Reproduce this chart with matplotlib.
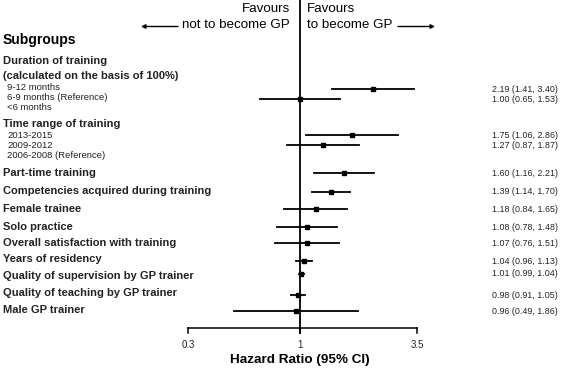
import numpy as np
import matplotlib
matplotlib.use("Agg")
import matplotlib.pyplot as plt
from matplotlib.transforms import blended_transform_factory

plt.rcParams['font.family'] = ['Liberation Sans', 'DejaVu Sans']

# datos
hr = [2.19, 1.00, 1.75, 1.27, 1.60, 1.39, 1.18, 1.08, 1.07, 1.04, 1.01, 0.98, 0.96]
ci_low = [1.41, 0.65, 1.06, 0.87, 1.16, 1.14, 0.84, 0.78, 0.76, 0.96, 0.99, 0.91, 0.49]
ci_high = [3.40, 1.53, 2.86, 1.87, 2.21, 1.70, 1.65, 1.48, 1.51, 1.13, 1.04, 1.05, 1.86]

labels = [
    ("Subgroups", "head"),
    ("Duration of training", "bold"),
    ("(calculated on the basis of 100%)", "bold"),
    ("9-12 months", "sub"),
    ("6-9 months (Reference)", "sub"),
    ("<6 months", "sub"),
    ("Time range of training", "bold"),
    ("2013-2015", "sub"),
    ("2009-2012", "sub"),
    ("2006-2008 (Reference)", "sub"),
    ("Part-time training", "bold"),
    ("Competencies acquired during training", "bold"),
    ("Female trainee", "bold"),
    ("Solo practice", "bold"),
    ("Overall satisfaction with training", "bold"),
    ("Years of residency", "bold"),
    ("Quality of supervision by GP trainer", "bold"),
    ("Quality of teaching by GP trainer", "bold"),
    ("Male GP trainer", "bold"),
]
ticks = [0.3, 1, 3.5]

# posiciones verticales (pixeles desde arriba)
y_lab = [40, 61, 76, 87, 97, 107, 124, 135, 146, 156, 173, 191, 209, 227, 243, 259, 276, 293, 310]
y_est = [89, 99, 135, 145, 173, 192, 209, 227, 243, 261, 274, 295, 311]

W, H = 567, 368
fig = plt.figure(figsize=(W / 100, H / 100), dpi=100)
ax = fig.add_axes([0, 0, 1, 1])
ax.set_xscale('log')
# 0.3 -> x=188 px, 3.5 -> x=417 px
k = np.log10(3.5 / 0.3) / (417 - 188)
ax.set_xlim(0.3 * 10 ** (-188 * k), 3.5 * 10 ** ((W - 417) * k))
ax.set_ylim(H, 0)
ax.axis('off')

trans = blended_transform_factory(ax.transAxes, ax.transData)

# linea de no efecto
ax.plot([1, 1], [0, 333], color='black', lw=1.3)

# intervalos y estimaciones
for i in range(len(hr)):
    ax.plot([ci_low[i], ci_high[i]], [y_est[i], y_est[i]], color='black', lw=1.3)
    ax.plot(hr[i], y_est[i], marker='s', ms=3.4, color='black')
    ax.text(492 / W, y_est[i], f"{hr[i]:.2f} ({ci_low[i]:.2f}, {ci_high[i]:.2f})",
            transform=trans, ha='left', va='center', fontsize=6.4, color='#222222')

# etiquetas de subgrupos
for (txt, kind), y in zip(labels, y_lab):
    if kind == "head":
        ax.text(3 / W, y, txt, transform=trans, ha='left', va='center', fontsize=10, fontweight='bold')
    elif kind == "bold":
        ax.text(3 / W, y, txt, transform=trans, ha='left', va='center', fontsize=8.0, fontweight='bold', color='#222222')
    else:
        ax.text(7 / W, y, txt, transform=trans, ha='left', va='center', fontsize=6.8, color='#222222')

# eje x
ax.plot([ticks[0], ticks[-1]], [328, 328], color='black', lw=1.1)
for t in ticks:
    ax.plot([t, t], [328, 333], color='black', lw=1.1)
    ax.text(t, 345, f"{t:g}", ha='center', va='center', fontsize=7, color='#222222')
ax.text(1, 360, "Hazard Ratio (95% CI)", ha='center', va='center', fontsize=9.7, fontweight='bold')

# cabecera
ax.text(290 / W, 9, "Favours", transform=trans, ha='right', va='center', fontsize=9.6)
ax.text(290 / W, 25, "not to become GP", transform=trans, ha='right', va='center', fontsize=9.6)
ax.text(307 / W, 9, "Favours", transform=trans, ha='left', va='center', fontsize=9.6)
ax.text(307 / W, 25, "to become GP", transform=trans, ha='left', va='center', fontsize=9.6)
flecha = dict(arrowstyle='-|>', lw=1, color='black', mutation_scale=6, shrinkA=0, shrinkB=0)
ax.annotate("", xy=(141 / W, 26.5), xytext=(178 / W, 26.5), xycoords=trans, arrowprops=flecha)
ax.annotate("", xy=(435 / W, 26.5), xytext=(398 / W, 26.5), xycoords=trans, arrowprops=flecha)

fig.savefig("out.png", dpi=100)
